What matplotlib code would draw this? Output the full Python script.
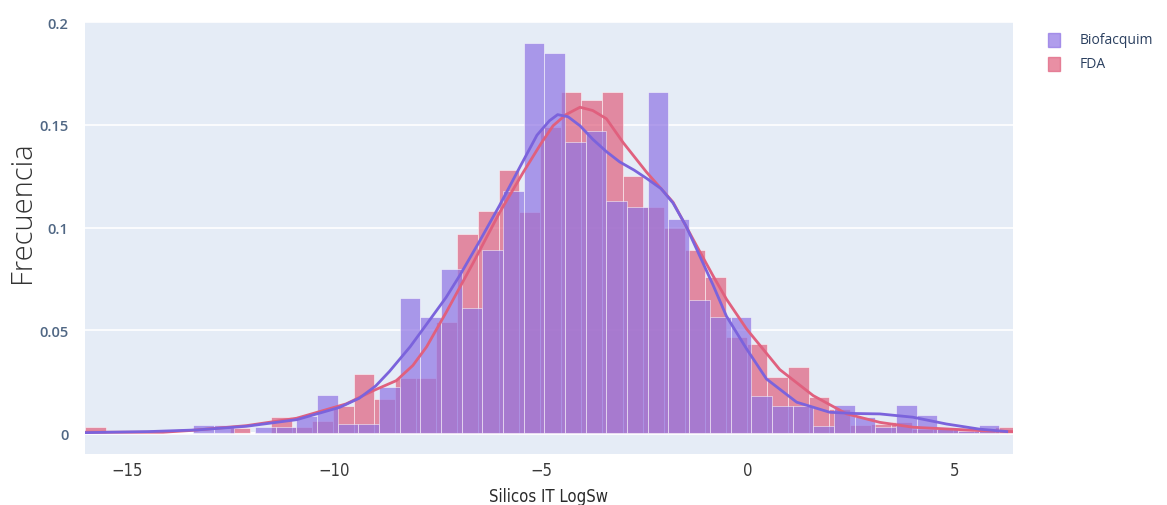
import numpy as np
import matplotlib
matplotlib.use("Agg")
import matplotlib.pyplot as plt

# histogram heights (bin width 0.5)
bio_start = -13.42
bio_h = [0.004, 0.004, 0.0, 0.003, 0.003, 0.0086, 0.0188, 0.0045, 0.0045, 0.0224,
         0.0657, 0.0564, 0.080, 0.061, 0.089, 0.118, 0.190, 0.185, 0.1415, 0.147,
         0.113, 0.110, 0.166, 0.104, 0.065, 0.0564, 0.0564, 0.0183, 0.0134, 0.0134,
         0.0037, 0.0137, 0.008, 0.003, 0.0137, 0.009, 0.002, 0.001, 0.004]

fda_start = -16.03
fda_h = [0.003, 0.0, 0.0, 0.0, 0.0, 0.0, 0.0, 0.0025, 0.0, 0.008,
         0.003, 0.006, 0.0134, 0.0288, 0.0167, 0.027, 0.027, 0.054, 0.097, 0.108,
         0.128, 0.1075, 0.149, 0.166, 0.162, 0.166, 0.125, 0.110, 0.100, 0.089,
         0.076, 0.047, 0.0434, 0.0272, 0.032, 0.0175, 0.0118, 0.004, 0.0045, 0.0055,
         0.002, 0.002, 0.002, 0.002, 0.003]

# density curves
bio_kx = [-16.0, -14.5, -13.33, -12.12, -10.91, -9.87, -9.4, -9.0, -8.67, -8.17,
          -7.77, -7.3, -6.96, -6.5, -6.0, -5.5, -5.1, -4.8, -4.6, -4.35, -4.06, -3.75,
          -3.42, -3.1, -2.75, -2.45, -2.1, -1.81, -1.5, -1.24, -0.84, -0.52, -0.03,
          0.45, 1.18, 1.98, 2.6, 3.19, 3.99, 4.8, 5.6, 6.26]
bio_ky = [0.0003, 0.0008, 0.0016, 0.0034, 0.0066, 0.0126, 0.017, 0.023, 0.030, 0.042,
          0.053, 0.066, 0.077, 0.093, 0.111, 0.13, 0.145, 0.152, 0.155, 0.154, 0.1496,
          0.143, 0.137, 0.132, 0.128, 0.124, 0.119, 0.112, 0.101, 0.0896, 0.072, 0.057,
          0.041, 0.0264, 0.0151, 0.0102, 0.0096, 0.0094, 0.0078, 0.0045, 0.002, 0.0008]

fda_kx = [-16.0, -14.14, -13.5, -12.12, -10.91, -9.71, -9.06, -8.5, -8.1, -7.77,
          -7.29, -6.64, -6.0, -5.43, -5.0, -4.71, -4.4, -4.06, -3.75, -3.42, -3.02,
          -2.45, -1.81, -1.24, -0.84, -0.52, -0.03, 0.77, 1.58, 2.39, 3.19, 4.0, 4.8,
          5.6, 6.4]
fda_ky = [0.0005, 0.0005, 0.0013, 0.0037, 0.0073, 0.0143, 0.0207, 0.0256, 0.033, 0.042,
          0.059, 0.083, 0.1075, 0.127, 0.141, 0.1496, 0.155, 0.1586, 0.157, 0.153, 0.1415,
          0.127, 0.1124, 0.0912, 0.0765, 0.0653, 0.0507, 0.031, 0.0183, 0.0094, 0.0053,
          0.0029, 0.0021, 0.0013, 0.0008]

bin_w = 0.5
purple = "#8f74e4"
red = "#e0607e"
narrow = ["Liberation Sans Narrow", "DejaVu Sans"]

fig = plt.figure(figsize=(11.67, 5.06), dpi=100)
ax = fig.add_axes([0.0728, 0.1008, 0.7952, 0.8543])
ax.set_facecolor("#e5ecf6")

bio_x = bio_start + bin_w * np.arange(len(bio_h))
fda_x = fda_start + bin_w * np.arange(len(fda_h))

ax.bar(fda_x, fda_h, width=bin_w, align="edge", color=red, alpha=0.7,
       edgecolor=(1, 1, 1, 0.08), linewidth=0.5, zorder=2)
ax.bar(bio_x, bio_h, width=bin_w, align="edge", color=purple, alpha=0.7,
       edgecolor=(1, 1, 1, 0.08), linewidth=0.5, zorder=3)

ax.plot(fda_kx, fda_ky, color="#e0607e", lw=2, zorder=4)
ax.plot(bio_kx, bio_ky, color="#7b63dc", lw=2, zorder=5)

ax.set_xlim(-16.03, 6.41)
ax.set_ylim(-0.0101, 0.2002)
ax.set_yticks([0, 0.05, 0.1, 0.15, 0.2])
ax.set_yticklabels(["0", "0.05", "0.1", "0.15", "0.2"])
ax.set_xticks([-15, -10, -5, 0, 5])
ax.set_xticklabels(["\u221215", "\u221210", "\u22125", "0", "5"])
ax.grid(axis="y", color="white", lw=1.2, zorder=0)
ax.axhline(0, color="white", lw=2, zorder=1)
ax.set_axisbelow(True)
for s in ax.spines.values():
    s.set_visible(False)
ax.tick_params(axis="y", length=0, labelcolor="#506784", labelsize=10.5, pad=12)
ax.tick_params(axis="x", length=0, labelcolor="#3a3a3a", labelsize=12, pad=5)
for t in ax.get_yticklabels():
    t.set_fontfamily(["Open Sans", "DejaVu Sans"])
    t.set_fontweight("semibold")
for t in ax.get_xticklabels():
    t.set_fontfamily(narrow)
    t.set_fontstretch("condensed")

ax.set_xlabel("Silicos IT LogSw", fontsize=12, color="#2a2a2a",
              family=narrow, fontstretch="condensed", labelpad=6)
fig.text(0.019, 0.58, "Frecuencia", rotation=90, fontsize=21, color="#333333",
         family=["Open Sans", "DejaVu Sans"], fontweight="light", va="center", ha="center")

# legend
fig.patches.append(plt.Rectangle((1048 / 1167, 1 - 48 / 506), 12 / 1167, 14 / 506,
                                 transform=fig.transFigure, color=purple, alpha=0.7))
fig.patches.append(plt.Rectangle((1048 / 1167, 1 - 72 / 506), 12 / 1167, 14 / 506,
                                 transform=fig.transFigure, color=red, alpha=0.7))
fig.text(1080 / 1167, 1 - 41 / 506, "Biofacquim", fontsize=10, color="#2a3f5f",
         family=["Open Sans", "DejaVu Sans"], va="center")
fig.text(1080 / 1167, 1 - 65 / 506, "FDA", fontsize=10, color="#2a3f5f",
         family=["Open Sans", "DejaVu Sans"], va="center")

fig.savefig("out.png", dpi=100)
